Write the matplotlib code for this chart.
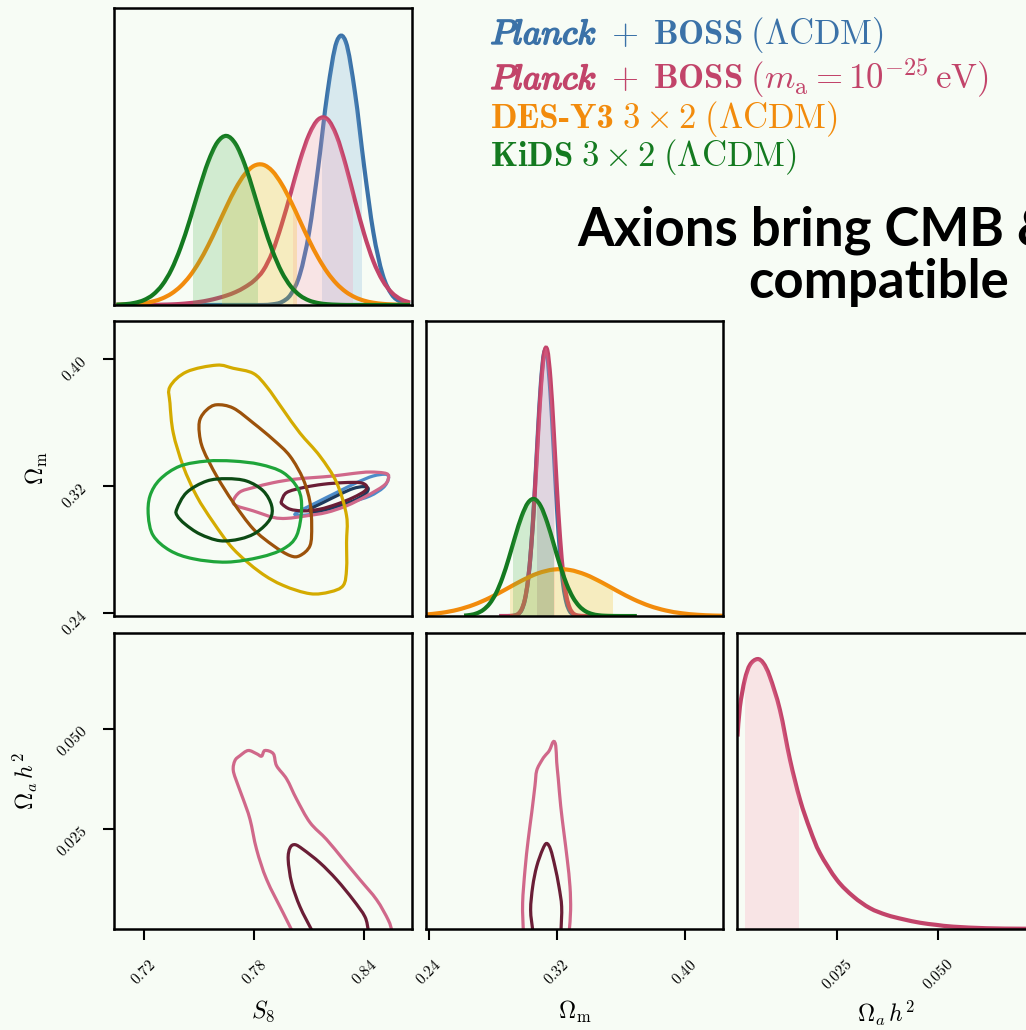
import numpy as np
import matplotlib
matplotlib.use("Agg")
import matplotlib.pyplot as plt
import matplotlib.patheffects as pe
from matplotlib.path import Path
from matplotlib.patches import PathPatch, Rectangle

plt.rcParams["mathtext.fontset"] = "cm"

BG = "#f7fcf5"

# run order: Planck+BOSS LCDM, Planck+BOSS axion, DES-Y3, KiDS
line_colors = ["#3b72a8", "#c2446a", "#f28b0c", "#147a20"]
fill_colors = ["#6aa6d8", "#ff8fb0", "#f5b700", "#4caf50"]
outer_colors = ["#4d8cc9", "#d0688a", "#d4ab00", "#1fa53a"]
inner_colors = ["#1c3a5c", "#6a1e36", "#9c520b", "#0c4b14"]

# axis ranges and ticks
s8_lim = (0.7037, 0.8658)
om_lim = (0.238, 0.424)
oa_lim = (0.00025, 0.0739)
s8_ticks = [0.72, 0.78, 0.84]
om_ticks = [0.24, 0.32, 0.40]
oa_ticks = [0.025, 0.050]
s8_ticklabels = ["0.72", "0.78", "0.84"]
om_ticklabels = ["0.24", "0.32", "0.40"]
oa_ticklabels = ["0.025", "0.050"]

# 1D marginals of S8 (normalised to the tallest curve)
s8_grid = [0.705, 0.710, 0.715, 0.720, 0.725, 0.730, 0.735, 0.740, 0.745, 0.750,
           0.755, 0.760, 0.765, 0.770, 0.775, 0.780, 0.785, 0.790, 0.795, 0.800,
           0.805, 0.810, 0.815, 0.820, 0.825, 0.830, 0.835, 0.840, 0.845, 0.850,
           0.855, 0.860, 0.865]
s8_planck = [0, 0, 0, 0, 0, 0, 0, 0, 0, 0,
             0, 0, 0, 0, 0, 0, 0, 0.0024, 0.0107, 0.039,
             0.114, 0.269, 0.512, 0.786, 0.974, 0.974, 0.786, 0.512, 0.269, 0.114,
             0.039, 0.011, 0.0024]
s8_axion = [0, 0, 0, 0, 0, 0.001, 0.002, 0.004, 0.007, 0.011,
            0.017, 0.025, 0.035, 0.048, 0.066, 0.090, 0.128, 0.196, 0.297, 0.414,
            0.534, 0.631, 0.687, 0.688, 0.626, 0.517, 0.387, 0.263, 0.162, 0.091,
            0.046, 0.021, 0.009]
s8_des = [0.0007, 0.0016, 0.0034, 0.0069, 0.0133, 0.0244, 0.0422, 0.0692, 0.1074, 0.1582,
          0.2203, 0.2911, 0.364, 0.4315, 0.4845, 0.5153, 0.5192, 0.4956, 0.4481, 0.3841,
          0.3116, 0.2393, 0.1745, 0.1203, 0.0787, 0.0487, 0.0286, 0.0159, 0.0084, 0.0042,
          0.002, 0.0009, 0.0004]
s8_kids = [0.0011, 0.0031, 0.0079, 0.0181, 0.0384, 0.0742, 0.131, 0.2125, 0.3146, 0.4268,
           0.530, 0.602, 0.626, 0.5956, 0.5188, 0.4134, 0.3017, 0.2014, 0.123, 0.0689,
           0.0353, 0.0165, 0.0071, 0.0028, 0.001, 0, 0, 0, 0, 0,
           0, 0, 0]
s8_lo = [0.817, 0.801, 0.7625, 0.7467]
s8_hi = [0.839, 0.834, 0.8034, 0.7821]

# 1D marginals of Omega_m
om_grid_cmb = [0.284, 0.286, 0.288, 0.290, 0.292, 0.294, 0.296, 0.298, 0.300, 0.302,
               0.304, 0.306, 0.308, 0.310, 0.312, 0.314, 0.316, 0.318, 0.320, 0.322,
               0.324, 0.326, 0.328, 0.330, 0.332, 0.334, 0.336, 0.338, 0.340, 0.342]
om_planck = [0, 0, 0, 0, 0.0006, 0.0023, 0.0078, 0.0231, 0.0598, 0.1337,
             0.2624, 0.4485, 0.6673, 0.8653, 0.979, 0.9662, 0.8306, 0.6227, 0.4069, 0.2317,
             0.1148, 0.0498, 0.0188, 0.0062, 0.0018, 0.0005, 0.0001, 0, 0, 0]
om_axion = [0, 0, 0, 0.0002, 0.0008, 0.0028, 0.0089, 0.0253, 0.0622, 0.135,
            0.259, 0.438, 0.649, 0.849, 0.977, 0.990, 0.8825, 0.693, 0.478, 0.291,
            0.156, 0.0734, 0.0304, 0.0111, 0.0036, 0.001, 0.0003, 0, 0, 0]
om_grid_des = [0.238, 0.248, 0.258, 0.268, 0.278, 0.288, 0.298, 0.308, 0.318, 0.328,
               0.338, 0.348, 0.358, 0.368, 0.378, 0.388, 0.398, 0.408, 0.418, 0.428]
om_des = [0.0056, 0.0120, 0.0236, 0.0420, 0.0678, 0.0992, 0.1317, 0.1586, 0.1731, 0.1715,
          0.1540, 0.1254, 0.0927, 0.0621, 0.0377, 0.0208, 0.0104, 0.0047, 0.0019, 0.0007]
om_grid_kids = [0.262, 0.266, 0.270, 0.274, 0.278, 0.282, 0.286, 0.290, 0.294, 0.298,
                0.302, 0.306, 0.310, 0.314, 0.318, 0.322, 0.326, 0.330, 0.334, 0.338,
                0.342, 0.346, 0.350, 0.354, 0.358, 0.362, 0.366, 0.370]
om_kids = [0.0016, 0.0042, 0.0103, 0.0230, 0.0464, 0.0853, 0.1424, 0.2158, 0.2970, 0.3715,
           0.4220, 0.4353, 0.4081, 0.3474, 0.2686, 0.1887, 0.1203, 0.0697, 0.0367, 0.0175,
           0.0076, 0.0030, 0.0011, 0.0004, 0.0001, 0, 0, 0]
om_lo = [0.3076, 0.3076, 0.2907, 0.2924]
om_hi = [0.3184, 0.3188, 0.3552, 0.3182]

# 1D marginal of the axion density
oa_grid = [0.0003, 0.0009, 0.0021, 0.0034, 0.0052, 0.0067, 0.0083, 0.0108, 0.0133, 0.0158,
           0.0183, 0.0207, 0.0249, 0.0290, 0.0331, 0.0372, 0.0413, 0.0455, 0.0496, 0.0537,
           0.0620, 0.0700, 0.0745]
oa_axion = [0.713, 0.823, 0.923, 0.979, 1.0, 0.985, 0.935, 0.812, 0.627, 0.478,
            0.367, 0.281, 0.182, 0.120, 0.077, 0.052, 0.036, 0.023, 0.015, 0.0085,
            0.0026, 0.001, 0.0005]
oa_lo, oa_hi = 0.00215, 0.0156

# 68% / 95% contours in the S8 - Omega_m plane
planck_95_s8 = [0.8023, 0.8141, 0.8250, 0.8359, 0.8449, 0.8522, 0.8531, 0.8504, 0.8431, 0.8322, 0.8213, 0.8105]
planck_95_om = [0.3023, 0.3096, 0.3159, 0.3221, 0.3263, 0.3273, 0.3242, 0.3190, 0.3137, 0.3096, 0.3054, 0.3020]
planck_68_s8 = [0.8105, 0.8177, 0.8268, 0.8340, 0.8395, 0.8422, 0.8404, 0.8340, 0.8250, 0.8159, 0.8114]
planck_68_om = [0.3054, 0.3096, 0.3148, 0.3184, 0.3196, 0.3184, 0.3148, 0.3106, 0.3071, 0.3043, 0.3037]
axion_95_s8 = [0.7687, 0.7723, 0.7796, 0.7905, 0.8014, 0.8123, 0.8231, 0.8340, 0.8431, 0.8522,
               0.8531, 0.8504, 0.8413, 0.8304, 0.8195, 0.8087, 0.7978, 0.7905, 0.7796, 0.7705]
axion_95_om = [0.3106, 0.3162, 0.3190, 0.3221, 0.3242, 0.3253, 0.3263, 0.3279, 0.3288, 0.3278,
               0.3242, 0.3200, 0.3137, 0.3075, 0.3033, 0.3012, 0.2996, 0.3002, 0.3043, 0.3075]
axion_68_s8 = [0.7950, 0.7978, 0.8068, 0.8177, 0.8286, 0.8377, 0.8413, 0.8404, 0.8340, 0.8250, 0.8159, 0.8068, 0.7996, 0.7954]
axion_68_om = [0.3106, 0.3159, 0.3190, 0.3211, 0.3221, 0.3221, 0.3200, 0.3169, 0.3127, 0.3085, 0.3054, 0.3043, 0.3054, 0.3085]
des_95_s8 = [0.7342, 0.7433, 0.7596, 0.7687, 0.7796, 0.7869, 0.7959, 0.8050, 0.8159, 0.8250, 0.8304, 0.8304,
             0.8304, 0.8286, 0.8213, 0.8105, 0.7959, 0.7832, 0.7687, 0.7578, 0.7487, 0.7414, 0.7360, 0.7342]
des_95_om = [0.3826, 0.3920, 0.3962, 0.3942, 0.3910, 0.3826, 0.3680, 0.3534, 0.3388, 0.3221, 0.3012, 0.2845,
             0.2678, 0.2573, 0.2532, 0.2521, 0.2573, 0.2657, 0.2803, 0.2971, 0.3137, 0.3325, 0.3534, 0.3722]
des_68_s8 = [0.7505, 0.7542, 0.7596, 0.7687, 0.7796, 0.7905, 0.7996, 0.8068, 0.8105, 0.8114,
             0.8105, 0.8050, 0.7996, 0.7905, 0.7796, 0.7687, 0.7596, 0.7523, 0.7502]
des_68_om = [0.3618, 0.3680, 0.3712, 0.3691, 0.3597, 0.3492, 0.3388, 0.3242, 0.3096, 0.2949,
             0.2824, 0.2761, 0.2761, 0.2824, 0.2929, 0.3096, 0.3263, 0.3430, 0.3534]
kids_95_s8 = [0.7233, 0.7288, 0.7396, 0.7542, 0.7687, 0.7832, 0.7959, 0.8041, 0.8059, 0.8032, 0.7959, 0.7832,
              0.7651, 0.7469, 0.7342, 0.7251, 0.7224]
kids_95_om = [0.3137, 0.3242, 0.3325, 0.3357, 0.3357, 0.3336, 0.3284, 0.3179, 0.3054, 0.2887, 0.2803, 0.2751,
              0.2720, 0.2741, 0.2793, 0.2887, 0.3012]
kids_68_s8 = [0.7379, 0.7433, 0.7542, 0.7651, 0.7760, 0.7850, 0.7896, 0.7887, 0.7814, 0.7723, 0.7614, 0.7505, 0.7424, 0.7382]
kids_68_om = [0.3054, 0.3159, 0.3231, 0.3246, 0.3231, 0.3169, 0.3075, 0.2991, 0.2908, 0.2866, 0.2855, 0.2897, 0.2960, 0.3012]

# axion density contours (cut at the prior edge Omega_a h^2 = 0)
s8oa_95_s8 = [0.8005, 0.7959, 0.7869, 0.7814, 0.7778, 0.7741, 0.7714, 0.7687, 0.7696, 0.7723, 0.7768, 0.7814, 0.7841,
              0.7859, 0.7905, 0.7923, 0.7978, 0.8032, 0.8105, 0.8195, 0.8286, 0.8377, 0.8468, 0.8531, 0.8550]
s8oa_95_oa = [0.0, 0.0042, 0.0125, 0.0200, 0.0275, 0.0325, 0.0358, 0.0396, 0.0421, 0.0433, 0.0446, 0.0438, 0.0432,
              0.0446, 0.0438, 0.0408, 0.0375, 0.0325, 0.0267, 0.0225, 0.0175, 0.0125, 0.0075, 0.0025, 0.0]
s8oa_68_s8 = [0.8114, 0.8050, 0.8005, 0.7986, 0.7996, 0.8023, 0.8068, 0.8159, 0.8250, 0.8340, 0.8404, 0.8422]
s8oa_68_oa = [0.0, 0.0058, 0.0117, 0.0175, 0.0204, 0.0212, 0.0200, 0.0167, 0.0125, 0.0075, 0.0033, 0.0]
omoa_95_om = [0.2990, 0.2986, 0.3001, 0.3021, 0.3043, 0.3063, 0.3074, 0.3105, 0.3126, 0.3153,
              0.3178, 0.3193, 0.3199, 0.3209, 0.3224, 0.3244, 0.3265, 0.3282, 0.3286, 0.3278]
omoa_95_oa = [0.0, 0.0067, 0.0150, 0.0225, 0.0292, 0.0358, 0.0396, 0.0421, 0.0433, 0.0446,
              0.0468, 0.0458, 0.0417, 0.0375, 0.0308, 0.0242, 0.0175, 0.0108, 0.0050, 0.0]
omoa_68_om = [0.3049, 0.3036, 0.3049, 0.3074, 0.3111, 0.3136, 0.3161, 0.3188, 0.3213, 0.3230, 0.3226]
omoa_68_oa = [0.0, 0.0050, 0.0108, 0.0158, 0.0200, 0.0215, 0.0200, 0.0158, 0.0108, 0.0058, 0.0]


def smooth(xs, ys, closed=False):
    # Catmull-Rom through the points, drawn as cubic Bezier segments
    p = np.column_stack([xs, ys]).astype(float)
    q = np.vstack([p[-1], p, p[0], p[1]]) if closed else np.vstack([p[0], p, p[-1]])
    verts, codes = [q[1]], [Path.MOVETO]
    for i in range(1, len(q) - 2):
        verts += [q[i] + (q[i + 1] - q[i - 1]) / 6, q[i + 1] - (q[i + 2] - q[i]) / 6, q[i + 1]]
        codes += [Path.CURVE4] * 3
    if closed:
        verts.append(q[1])
        codes.append(Path.CLOSEPOLY)
    return Path(np.array(verts), codes)


def pdf(ax, xs, ys, lo, hi, k):
    path = smooth(xs, ys)
    ax.add_patch(PathPatch(path, fc="none", ec=line_colors[k], lw=3.0, zorder=2 + 2 * k))
    verts = np.vstack([path.vertices, [xs[-1], 0], [xs[0], 0], [xs[0], 0]])
    codes = list(path.codes) + [Path.LINETO, Path.LINETO, Path.CLOSEPOLY]
    band = PathPatch(Path(verts, codes), fc=fill_colors[k], ec="none", alpha=0.22, zorder=3 + 2 * k)
    ax.add_patch(band)
    band.set_clip_path(Rectangle((lo, 0), hi - lo, 2, transform=ax.transData))


def contour(ax, xs, ys, color, closed=True, z=2):
    ax.add_patch(PathPatch(smooth(xs, ys, closed), fc="none", ec=color, lw=2.3, zorder=z))


fig = plt.figure(figsize=(10.26, 10.30), dpi=100, facecolor=BG)

cols = [0.1111, 0.4149, 0.7186]
rows = [0.7039, 0.4019, 0.0981]
heights = [0.2879, 0.2864, 0.2877]
W = 0.290
limits = [s8_lim, om_lim, oa_lim]
ticks = [s8_ticks, om_ticks, oa_ticks]
ticktext = [s8_ticklabels, om_ticklabels, oa_ticklabels]
names = [r"$S_8$", r"$\Omega_{\rm m}$", r"$\Omega_a\,h^2$"]
ylabel_x = [0, -0.215, -0.25]

axes = {}
for r in range(3):
    for c in range(r + 1):
        ax = fig.add_axes([cols[c], rows[r], W, heights[r]], facecolor=BG)
        axes[r, c] = ax
        ax.set_xlim(limits[c])
        ax.set_ylim((0, 1.098) if r == c else limits[r])
        for s in ax.spines.values():
            s.set_linewidth(1.8)
            s.set_zorder(20)
        ax.tick_params(direction="out", length=8, width=1.5, labelsize=11)
        ax.tick_params(axis="x", pad=12)
        ax.tick_params(axis="y", pad=13)
        if r == 2:
            ax.set_xticks(ticks[c])
            ax.set_xticklabels([f"${t}$" for t in ticktext[c]], rotation=45, ha="center", va="top")
            ax.set_xlabel(names[c], fontsize=17)
            ax.xaxis.set_label_coords(0.5, -0.235)
        else:
            ax.set_xticks([])
        if c == 0 and r > 0:
            ax.set_yticks(ticks[r])
            ax.set_yticklabels([f"${t}$" for t in ticktext[r]], rotation=45, ha="right",
                               va="center", rotation_mode="anchor")
            ax.set_ylabel(names[r], fontsize=17)
            ax.yaxis.set_label_coords(ylabel_x[r], 0.5)
        else:
            ax.set_yticks([])

# diagonal: 1D marginals
ax = axes[0, 0]
for k, ys in enumerate([s8_planck, s8_axion, s8_des, s8_kids]):
    pdf(ax, s8_grid, ys, s8_lo[k], s8_hi[k], k)

ax = axes[1, 1]
om_curves = [(om_grid_cmb, om_planck), (om_grid_cmb, om_axion), (om_grid_des, om_des), (om_grid_kids, om_kids)]
for k, (xs, ys) in enumerate(om_curves):
    pdf(ax, xs, ys, om_lo[k], om_hi[k], k)

pdf(axes[2, 2], oa_grid, oa_axion, oa_lo, oa_hi, 1)

# S8 - Omega_m contours
ax = axes[1, 0]
pairs = [(planck_95_s8, planck_95_om, planck_68_s8, planck_68_om),
         (axion_95_s8, axion_95_om, axion_68_s8, axion_68_om),
         (des_95_s8, des_95_om, des_68_s8, des_68_om),
         (kids_95_s8, kids_95_om, kids_68_s8, kids_68_om)]
for k, (x95, y95, x68, y68) in enumerate(pairs):
    contour(ax, x95, y95, outer_colors[k], z=2 + 2 * k)
    contour(ax, x68, y68, inner_colors[k], z=3 + 2 * k)

# axion density contours
contour(axes[2, 0], s8oa_95_s8, s8oa_95_oa, outer_colors[1], closed=False)
contour(axes[2, 0], s8oa_68_s8, s8oa_68_oa, inner_colors[1], closed=False)
contour(axes[2, 1], omoa_95_om, omoa_95_oa, outer_colors[1], closed=False)
contour(axes[2, 1], omoa_68_om, omoa_68_oa, inner_colors[1], closed=False)

# legend, written piece by piece along a common baseline
legend_rows = [
    [(r"$\mathit{Planck}$", None, True), (r"$\;+\;\mathbf{BOSS}\;(\Lambda\mathrm{CDM})$", None, False)],
    [(r"$\mathit{Planck}$", None, True), (r"$\;+\;\mathbf{BOSS}\;(m_{\rm a}=10^{-25}\,\mathrm{eV})$", None, False)],
    [("DES-Y3", "cmb10", False), (r"$\;3\times2\;(\Lambda\mathrm{CDM})$", None, False)],
    [(r"$\mathbf{KiDS}\;3\times2\;(\Lambda\mathrm{CDM})$", None, False)],
]
legend_y = [0.9573, 0.9136, 0.8757, 0.8388]
renderer = fig.canvas.get_renderer()
for k, pieces in enumerate(legend_rows):
    x = 0.478
    for txt, fam, heavy in pieces:
        kw = {"family": fam} if fam else {}
        t = fig.text(x, legend_y[k], txt, color=line_colors[k], fontsize=25,
                     ha="left", va="baseline", **kw)
        if heavy:
            t.set_path_effects([pe.withStroke(linewidth=1.3, foreground=line_colors[k])])
        bb = t.get_window_extent(renderer)
        x = fig.transFigure.inverted().transform((bb.x1, bb.y0))[0]

fig.text(0.5624, 0.7612, "Axions bring CMB & LSS", family="Lato", weight="bold",
         fontsize=38, ha="left", va="baseline", color="black")
fig.text(0.7290, 0.7107, "compatible", family="Lato", weight="bold",
         fontsize=38, ha="left", va="baseline", color="black")

fig.savefig("out.png", dpi=100, facecolor=BG)
